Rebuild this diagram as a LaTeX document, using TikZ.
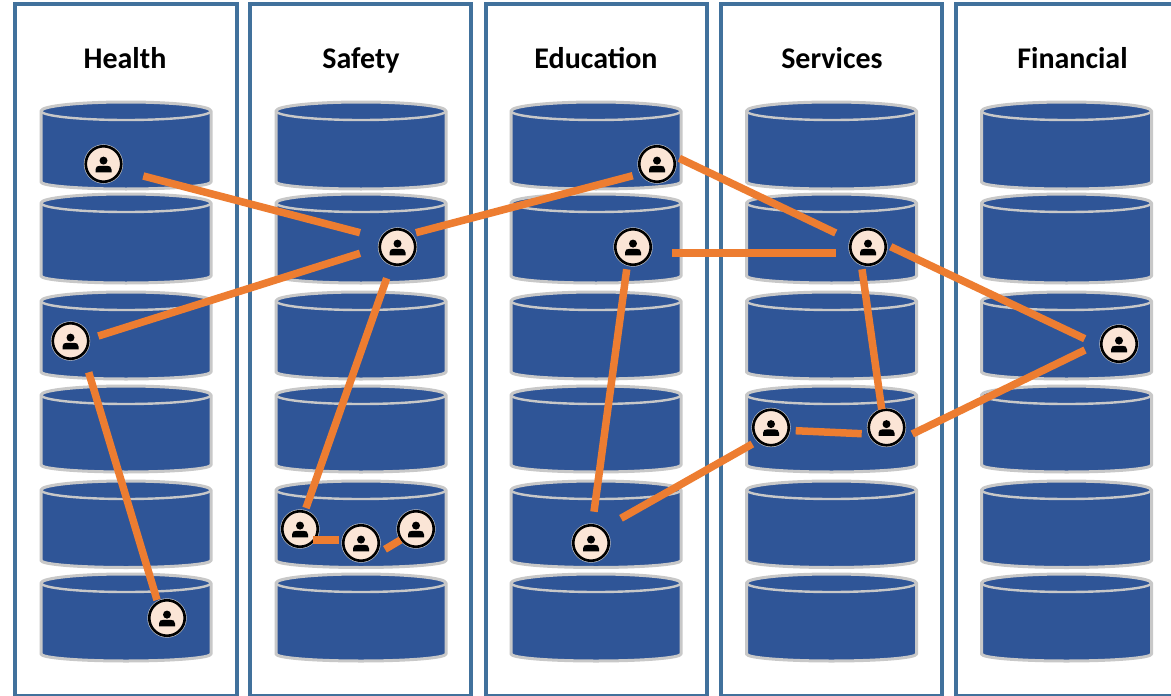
\documentclass[tikz,border=0pt]{standalone}
\usepackage{fontspec}
\setmainfont{Carlito}
\usetikzlibrary{calc}
\definecolor{panelblue}{HTML}{41719C}
\definecolor{drumblue}{HTML}{2F5597}
\definecolor{drumedge}{HTML}{C8C8C8}
\definecolor{link}{HTML}{ED7D31}
\definecolor{peach}{HTML}{FBE5D6}
\newcommand{\drum}[3]{%
  \path[drumfill] (#1,#2+9) arc[start angle=180,end angle=360,x radius=85,y radius=9]
    -- (#1+170,#3-7) arc[start angle=0,end angle=180,x radius=85,y radius=7] -- cycle;
  \draw[drumline] (#1,#2+9) arc[start angle=180,end angle=0,x radius=85,y radius=9];
}
\tikzset{
  panel/.style={draw=panelblue,line width=3.2pt,fill=white},
  heading/.style={font=\fontsize{30}{32}\selectfont\bfseries,text=black,anchor=base,inner sep=0pt},
  drumfill/.style={fill=drumblue,draw=drumedge,line width=3pt,line join=round},
  drumline/.style={draw=drumedge,line width=2.4pt},
  person/.style={circle,minimum size=35.5pt,inner sep=0pt,outer sep=0pt,fill=peach,
    draw=black,line width=2.6pt,
    preaction={draw=drumedge,line width=3.8pt},
    path picture={
      \coordinate (pc) at (path picture bounding box.center);
      \fill[black] ([yshift=3.4pt]pc) circle[radius=4pt];
      \fill[black] ([xshift=-8pt,yshift=-8.3pt]pc) -- ([xshift=-8pt,yshift=-5.4pt]pc)
        .. controls ([xshift=-8pt,yshift=-2.6pt]pc) and ([xshift=-6pt,yshift=-1.8pt]pc) .. ([xshift=-3.5pt,yshift=-1.8pt]pc)
        -- ([xshift=3.5pt,yshift=-1.8pt]pc)
        .. controls ([xshift=6pt,yshift=-1.8pt]pc) and ([xshift=8pt,yshift=-2.6pt]pc) .. ([xshift=8pt,yshift=-5.4pt]pc)
        -- ([xshift=8pt,yshift=-8.3pt]pc) -- cycle;
    }},
  wire/.style={draw=link,line width=7.5pt}
}
\begin{document}
\begin{tikzpicture}[x=1pt,y=-1pt]
\useasboundingbox (0,0) rectangle (1171,696);
\clip (0,0) rectangle (1171,696);
\fill[white] (0,0) rectangle (1171,696);
\draw[panel] (15,4) rectangle (237,696);
\draw[panel] (250,4) rectangle (471,696);
\draw[panel] (486,4) rectangle (707,696);
\draw[panel] (721,4) rectangle (942,696);
\draw[panel] (956,4) rectangle (1190,696);
\node[heading] (h1) at (125,68) {Health};
\node[heading] (h2) at (361,68) {Safety};
\node[heading] (h3) at (596,68) {Education};
\node[heading] (h4) at (832,68) {Services};
\node[heading] (h5) at (1072.5,68) {Financial};
\foreach \x in {41,276,511,746.5,981.5}
  \foreach \y/\z in {102/189,194/283,292/379,386/472,481/567.5,574/661}
    {\drum{\x}{\y}{\z}}
\node[person] (a1) at (103.5,164) {};
\node[person] (a2) at (70.5,341) {};
\node[person] (a3) at (167,618) {};
\node[person] (b1) at (397.5,247) {};
\node[person] (b2) at (300,529) {};
\node[person] (b3) at (361,543) {};
\node[person] (b4) at (416,529) {};
\node[person] (c1) at (657,164) {};
\node[person] (c2) at (633,247) {};
\node[person] (c3) at (591,543) {};
\node[person] (d1) at (868,247) {};
\node[person] (d2) at (771,427.5) {};
\node[person] (d3) at (886.5,427.5) {};
\node[person] (e1) at (1119,344) {};
\draw[wire] ($(a1)+(39.8,12)$) -- ($(b1)+(-37.5,-14.3)$);
\draw[wire] ($(a2)+(27.8,-5)$) -- ($(b1)+(-37.5,6.3)$);
\draw[wire] ($(a2)+(18.2,31.3)$) -- ($(a3)+(-10,-18)$);
\draw[wire] ($(b1)+(-10.8,31.3)$) -- ($(b2)+(6,-21)$);
\draw[wire] ($(b2)+(13,11)$) -- ($(b3)+(-21.7,-3)$);
\draw[wire] ($(b3)+(24,6.3)$) -- ($(b4)+(-15.5,11)$);
\draw[wire] ($(b1)+(18.5,-14.3)$) -- ($(c1)+(-24.3,11.7)$);
\draw[wire] ($(c1)+(22.3,-5.7)$) -- ($(d1)+(-32.3,-14)$);
\draw[wire] ($(c2)+(39.3,6)$) -- ($(d1)+(-32,6)$);
\draw[wire] ($(c2)+(-6.3,22.3)$) -- ($(c3)+(3,-31.3)$);
\draw[wire] ($(c3)+(30,-24.7)$) -- ($(d2)+(-18.7,16.5)$);
\draw[wire] ($(d2)+(24.7,3.2)$) -- ($(d3)+(-24.8,6.2)$);
\draw[wire] ($(d1)+(-6,22.3)$) -- ($(d3)+(-4.8,-18.2)$);
\draw[wire] ($(d1)+(22.7,-0.3)$) -- ($(e1)+(-34.3,-5.3)$);
\draw[wire] ($(d3)+(25.8,6.5)$) -- ($(e1)+(-34,6)$);
\end{tikzpicture}
\end{document}
